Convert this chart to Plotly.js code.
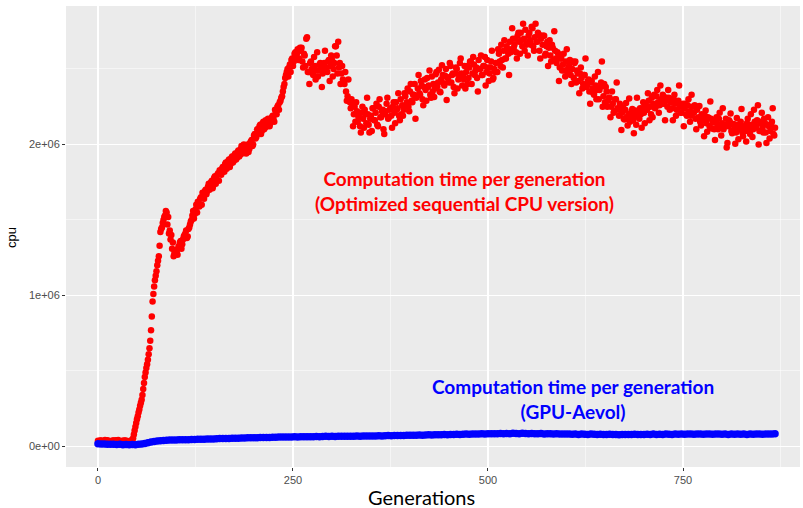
<!DOCTYPE html>
<html>
<head>
<meta charset="utf-8">
<script src="https://cdn.plot.ly/plotly-3.0.1.min.js"></script>
<style>html,body{margin:0;padding:0;background:#fff;}#chart{width:803px;height:508px;}</style>
</head>
<body>
<div id="chart"></div>
<script>
// CPU version, even generations (0,2,...,868), in thousands
const cpuEvenThousands = [
38,32,40,35,30,36,41,33,37,34,
39,31,36,42,34,30,37,40,33,36,
35,38,42,80,130,180,225,270,310,380,
460,520,575,650,770,960,1060,1130,1200,1260,
1420,1450,1500,1530,1550,1520,1430,1400,1350,1280,
1300,1270,1330,1360,1340,1390,1410,1380,1440,1470,
1500,1560,1540,1600,1620,1590,1650,1680,1640,1700,
1690,1740,1720,1760,1730,1790,1770,1810,1830,1800,
1850,1820,1880,1860,1900,1870,1920,1890,1940,1910,
1960,1930,1990,1950,1980,1940,2000,1970,2020,1990,
2060,2040,2100,2080,2130,2090,2150,2110,2140,2170,
2120,2160,2190,2150,2210,2250,2230,2290,2320,2380,
2440,2480,2450,2530,2560,2520,2600,2580,2630,2570,
2620,2550,2600,2520,2710,2480,2540,2500,2460,2520,
2490,2450,2530,2500,2470,2540,2510,2480,2560,2520,
2560,2500,2650,2590,2680,2540,2470,2430,2400,2350,
2320,2290,2240,2260,2200,2150,2220,2180,2120,2210,
2170,2230,2140,2200,2080,2190,2240,2160,2210,2130,
2250,2180,2220,2100,2200,2270,2170,2230,2190,2250,
2210,2280,2240,2190,2300,2260,2230,2320,2280,2250,
2350,2290,2330,2400,2310,2370,2340,2420,2300,2380,
2360,2440,2390,2330,2450,2400,2370,2480,2410,2350,
2430,2460,2390,2500,2440,2410,2520,2460,2380,2470,
2500,2430,2540,2470,2450,2520,2480,2400,2510,2550,
2470,2530,2490,2440,2560,2500,2460,2520,2580,2480,
2510,2470,2550,2430,2500,2540,2480,2600,2520,2560,
2620,2570,2650,2600,2680,2630,2700,2660,2610,2720,
2680,2740,2650,2700,2760,2670,2720,2690,2780,2650,
2710,2680,2740,2620,2700,2660,2720,2600,2680,2640,
2590,2660,2560,2620,2540,2600,2510,2570,2530,2490,
2550,2480,2520,2460,2500,2440,2550,2490,2420,2470,
2440,2400,2460,2380,2420,2350,2410,2370,2330,2390,
2360,2300,2380,2550,2320,2280,2350,2290,2310,2250,
2270,2220,2300,2240,2190,2250,2210,2170,2230,2180,
2200,2150,2220,2160,2190,2130,2210,2170,2200,2240,
2210,2260,2230,2290,2250,2310,2270,2240,2320,2280,
2260,2300,2330,2270,2290,2250,2310,2280,2240,2300,
2270,2230,2290,2250,2210,2270,2240,2200,2260,2220,
2190,2250,2210,2170,2230,2180,2150,2200,2160,2190,
2140,2180,2120,2170,2150,2100,2160,2130,2170,2110,
2140,2100,2130,1980,2120,2150,2090,2130,2110,2080,
2130,2100,2150,2080,2120,2090,2140,2110,2070,2130,
2100,2150,2120,2260,2090,2140,2110,2170,2080,2130,
2120,2090,2150,2070,2110
];

// CPU version, odd generations (1,3,...,867), in thousands
const cpuOddThousands = [
34,39,31,37,42,33,38,35,31,40,
35,41,33,37,30,38,34,39,36,32,
37,40,55,105,155,200,245,290,340,420,
490,545,610,700,860,1010,1100,1160,1230,1330,
1440,1480,1520,1560,1470,1410,1370,1310,1260,1300,
1290,1320,1350,1310,1370,1400,1430,1390,1450,1490,
1530,1510,1570,1550,1610,1640,1600,1660,1690,1670,
1720,1700,1750,1710,1780,1740,1800,1760,1820,1840,
1830,1870,1840,1890,1850,1910,1880,1930,1900,1950,
1920,1970,1940,2000,1960,1990,1950,2010,2030,2000,
2070,2050,2090,2120,2070,2140,2100,2160,2120,2150,
2140,2180,2170,2230,2200,2260,2280,2310,2350,2400,
2460,2500,2510,2480,2570,2550,2610,2600,2560,2640,
2640,2510,2590,2700,2480,
2400,2550,2470,2580,2430,2610,2490,2540,2380,2530,
2620,2490,2550,2420,2590,2450,2540,2650,2470,2510,
2400,2520,2410,2480,2290,2430,2280,2300,2120,2250,
2280,2150,2210,2080,2250,2110,2200,2310,2130,2170,
2090,2240,2160,2270,2120,2300,2180,2230,2070,2220,
2310,2180,2240,2110,2280,2140,2230,2340,2160,2200,
2190,2340,2260,2370,2220,2400,2280,2330,2170,2320,
2460,2330,2390,2260,2430,2290,2380,2490,2310,2350,
2315,2465,2385,2495,2345,2525,2405,2455,2295,2445,
2540,2410,2470,2340,2510,2370,2460,2570,2390,2430,
2370,2520,2440,2550,2400,2580,2460,2510,2350,2500,
2590,2460,2520,2390,2560,2420,2510,2620,2440,2480,
2480,2630,2550,2660,2510,2690,2570,2620,2460,2610,
2770,2640,2700,2570,2740,2600,2690,2800,2620,2660,
2590,2740,2660,2770,2620,2800,2680,2730,2570,2720,
2720,2590,2650,2520,2690,2550,2640,2750,2570,2610,
2420,2570,2490,2600,2450,2630,2510,2560,2400,2550,
2540,2410,2470,2340,2510,2370,2460,2570,2390,2430,
2270,2420,2340,2450,2300,2480,2360,2410,2250,2400,
2380,2250,2310,2180,2350,2210,2300,2410,2230,2270,
2095,2245,2165,2275,2125,2305,2185,2235,2075,2225,
2310,2180,2240,2110,2280,2140,2230,2340,2160,2200,
2180,2330,2250,2360,2210,2390,2270,2320,2160,2310,
2360,2230,2290,2160,2330,2190,2280,2390,2210,2250,
2120,2270,2190,2300,2150,2330,2210,2260,2100,2250,
2255,2125,2185,2055,2225,2085,2175,2285,2105,2145,
2030,2180,2100,2210,2060,2240,2120,2170,2010,2160,
2205,2075,2135,2005,2175,2035,2125,2235,2055,2095,
2020,2170,2090,2200,2050,2230,2110,2160,2000,2150,
2210,2080,2140,2010,2180,
2040,2130,2240,2060
];

// GPU-Aevol: one value every 4 generations (gen 0..868), in thousands
const gpuStep = 4;
const gpuThousands = [
18,16,17,15,14,15,13,14,12,13,
12,13,12,14,16,20,24,29,33,36,
38,40,41,42,42,43,44,44,45,45,
46,46,47,48,48,49,50,50,51,52,
52,53,53,54,55,55,56,56,57,57,
58,58,59,59,60,60,61,61,62,62,
63,62,63,64,63,64,65,64,65,65,
66,65,66,67,66,67,66,67,68,67,
68,67,68,69,68,69,70,69,70,70,
71,70,71,72,71,72,73,72,73,74,
74,75,74,76,75,76,77,76,78,77,
78,79,78,80,79,81,80,81,82,81,
82,83,82,84,83,85,84,85,84,86,
85,86,85,87,86,85,87,86,85,86,
85,84,86,83,85,84,83,84,82,83,
82,83,81,82,80,82,81,80,82,81,
80,81,79,80,81,79,80,78,80,79,
80,79,81,80,79,80,81,80,82,80,
81,80,82,81,80,82,81,83,81,82,
82,81,83,82,81,83,82,81,83,82,
81,82,80,82,81,83,81,82,80,82,
81,83,82,81,82,83,82,84
];

const xTickVals = [0, 250, 500, 750];
const xTickText = ['0', '250', '500', '750'];
const yTickVals = [0, 1e6, 2e6];
const yTickText = ['0e+00', '1e+06', '2e+06'];

const cpuGen = cpuEvenThousands.map((_, i) => i * 2).concat(cpuOddThousands.map((_, i) => i * 2 + 1));
const cpuVal = cpuEvenThousands.concat(cpuOddThousands).map(v => v * 1000);
const gpuGen = gpuThousands.map((_, i) => i * gpuStep);
const gpuVal = gpuThousands.map(v => v * 1000);

const traces = [
  {x: cpuGen, y: cpuVal, type: 'scatter', mode: 'markers',
   marker: {color: '#FF0000', size: 6.5}, hoverinfo: 'skip', showlegend: false},
  {x: gpuGen, y: gpuVal, type: 'scatter', mode: 'markers',
   marker: {color: '#0000FF', size: 7.5}, hoverinfo: 'skip', showlegend: false}
];

const tickFont = {family: 'Liberation Sans, Arial, sans-serif', size: 11, color: '#4d4d4d'};
const annFont = (c) => ({family: 'Lato, sans-serif', size: 19, color: c, weight: 'bold'});

const L = 66, R = 800, T = 6, B = 467;
const px2paperX = (px) => (px - L) / (R - L);
const px2paperY = (py) => (B - py) / (B - T);

const layout = {
  width: 803, height: 508,
  margin: {l: L, r: 803 - R, t: T, b: 508 - B},
  paper_bgcolor: '#ffffff',
  plot_bgcolor: '#EBEBEB',
  showlegend: false,
  xaxis: {
    range: [-41, 900],
    tickvals: xTickVals, ticktext: xTickText,
    showgrid: true, gridcolor: '#ffffff', gridwidth: 1.1,
    minor: {dtick: 250, tick0: 125, showgrid: true, gridcolor: '#ffffff', gridwidth: 0.5, ticks: ''},
    zeroline: false, showline: false,
    ticks: 'outside', ticklen: 3, tickcolor: '#333333', tickwidth: 1,
    tickfont: tickFont
  },
  yaxis: {
    range: [-0.136e6, 2.917e6],
    tickvals: yTickVals, ticktext: yTickText,
    showgrid: true, gridcolor: '#ffffff', gridwidth: 1.1,
    minor: {dtick: 1e6, tick0: 0.5e6, showgrid: true, gridcolor: '#ffffff', gridwidth: 0.5, ticks: ''},
    zeroline: false, showline: false,
    ticks: 'outside', ticklen: 3, tickcolor: '#333333', tickwidth: 1,
    tickfont: tickFont
  },
  annotations: [
    {text: 'Computation time per generation<br>(Optimized sequential CPU version)',
     x: 470, y: 1.69e6, xref: 'x', yref: 'y', showarrow: false,
     font: annFont('#FF0000'), align: 'center'},
    {text: 'Computation time per generation<br>(GPU-Aevol)',
     x: 609, y: 0.315e6, xref: 'x', yref: 'y', showarrow: false,
     font: annFont('#0000FF'), align: 'center'},
    {text: 'Generations', x: px2paperX(421), y: px2paperY(497), xref: 'paper', yref: 'paper',
     xanchor: 'center', yanchor: 'middle',
     showarrow: false, font: {family: 'Lato, sans-serif', size: 20, color: '#000'}},
    {text: 'cpu', textangle: -90, x: px2paperX(12), y: px2paperY(238), xref: 'paper', yref: 'paper',
     xanchor: 'center', yanchor: 'middle',
     showarrow: false, font: {family: 'Liberation Sans, Arial, sans-serif', size: 13, color: '#000'}}
  ]
};

Plotly.newPlot('chart', traces, layout, {staticPlot: true, displayModeBar: false});
</script>
</body>
</html>
